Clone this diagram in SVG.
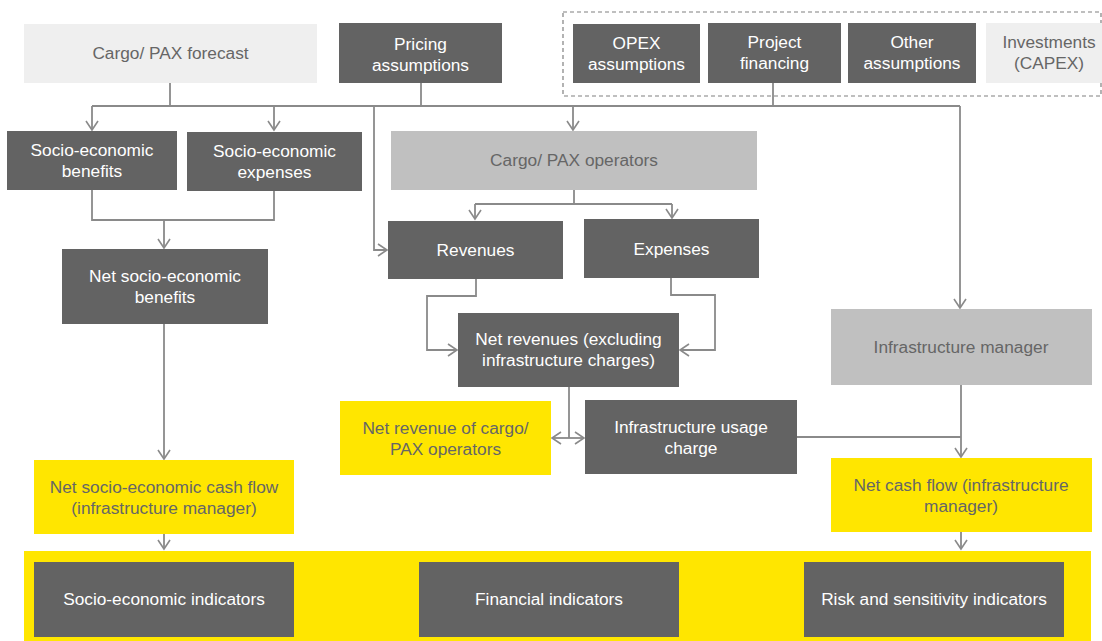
<svg xmlns="http://www.w3.org/2000/svg" width="1102" height="641" viewBox="0 0 1102 641">
<defs>
<marker id="arr" markerUnits="userSpaceOnUse" markerWidth="14" markerHeight="16" refX="10" refY="7" orient="auto">
<path d="M1,1 L10,7 L1,13" fill="none" stroke="#8a8a8a" stroke-width="1.6"/>
</marker>
<style>
.dk{fill:#636363}
.lt{fill:#efefef}
.md{fill:#c0c0c0}
.ye{fill:#ffe600}
text{font-family:"Liberation Sans",Arial,sans-serif;font-size:17.3px;text-anchor:middle}
.w{fill:#ffffff}
.g{fill:#666666}
.c{fill:none;stroke:#8a8a8a;stroke-width:1.8}
.a{marker-end:url(#arr)}
</style>
</defs>
<rect width="1102" height="641" fill="#ffffff"/>
<rect x="563" y="12" width="538" height="84" fill="none" stroke="#808080" stroke-width="1.2" stroke-dasharray="4,3"/>
<g id="connectors">
<path class="c" d="M170,83 V106 M421,83 V106 M773,83 V106 M92,106 H960"/>
<path class="c a" d="M92,106 V130"/>
<path class="c a" d="M274,106 V130"/>
<path class="c a" d="M573,106 V130"/>
<path class="c a" d="M374,106 V250 H387"/>
<path class="c a" d="M960,106 V308"/>
<path class="c" d="M92,190 V220 H274 V190"/>
<path class="c a" d="M164,220 V248"/>
<path class="c a" d="M164,324 V459"/>
<path class="c a" d="M164,534 V549"/>
<path class="c" d="M574,190 V204 M475,204 H672"/>
<path class="c a" d="M475,204 V219"/>
<path class="c a" d="M672,204 V218"/>
<path class="c a" d="M476,279 V296 H427 V350 H457"/>
<path class="c a" d="M671,278 V295 H715 V350 H680"/>
<path class="c" d="M569,387 V438"/>
<path class="c a" d="M569,438 H552"/>
<path class="c a" d="M569,438 H584"/>
<path class="c" d="M797,437 H961"/>
<path class="c a" d="M961,385 V457"/>
<path class="c a" d="M961,532 V549"/>
</g>
<g id="cargo-forecast"><rect class="lt" x="24" y="24" width="293" height="59"/><text class="g" x="170.5" y="59">Cargo/ PAX forecast</text></g>
<g id="pricing"><rect class="dk" x="339" y="23" width="163" height="60"/><text class="w" x="420.5" y="50">Pricing</text><text class="w" x="420.5" y="71">assumptions</text></g>
<g id="opex"><rect class="dk" x="573" y="24" width="127" height="59"/><text class="w" x="636.5" y="49">OPEX</text><text class="w" x="636.5" y="70">assumptions</text></g>
<g id="project-financing"><rect class="dk" x="708" y="23" width="133" height="60"/><text class="w" x="774.5" y="48">Project</text><text class="w" x="774.5" y="69">financing</text></g>
<g id="other"><rect class="dk" x="848" y="23" width="128" height="60"/><text class="w" x="912" y="48">Other</text><text class="w" x="912" y="69">assumptions</text></g>
<g id="investments"><rect class="lt" x="986" y="23" width="116" height="60"/><text class="g" x="1049" y="48">Investments</text><text class="g" x="1049" y="69">(CAPEX)</text></g>
<g id="socio-benefits"><rect class="dk" x="7" y="131" width="170" height="59"/><text class="w" x="92" y="156">Socio-economic</text><text class="w" x="92" y="177">benefits</text></g>
<g id="socio-expenses"><rect class="dk" x="187" y="132" width="175" height="59"/><text class="w" x="274.5" y="157">Socio-economic</text><text class="w" x="274.5" y="178">expenses</text></g>
<g id="cargo-operators"><rect class="md" x="391" y="131" width="366" height="59"/><text class="g" x="574" y="166">Cargo/ PAX operators</text></g>
<g id="revenues"><rect class="dk" x="388" y="221" width="175" height="58"/><text class="w" x="475.5" y="256">Revenues</text></g>
<g id="expenses"><rect class="dk" x="584" y="219" width="175" height="59"/><text class="w" x="671.5" y="255">Expenses</text></g>
<g id="net-socio-benefits"><rect class="dk" x="62" y="249" width="206" height="75"/><text class="w" x="165" y="282">Net socio-economic</text><text class="w" x="165" y="303">benefits</text></g>
<g id="net-revenues"><rect class="dk" x="458" y="313" width="221" height="74"/><text class="w" x="568.5" y="345">Net revenues (excluding</text><text class="w" x="568.5" y="366">infrastructure charges)</text></g>
<g id="infra-manager"><rect class="md" x="831" y="309" width="261" height="76"/><text class="g" x="961" y="353">Infrastructure manager</text></g>
<g id="net-revenue-operators"><rect class="ye" x="340" y="401" width="211" height="74"/><text class="g" x="445.5" y="434">Net revenue of cargo/</text><text class="g" x="445.5" y="455">PAX operators</text></g>
<g id="infra-usage"><rect class="dk" x="585" y="400" width="212" height="74"/><text class="w" x="691" y="433">Infrastructure usage</text><text class="w" x="691" y="454">charge</text></g>
<g id="net-socio-cashflow"><rect class="ye" x="34" y="460" width="260" height="74"/><text class="g" x="164" y="493">Net socio-economic cash flow</text><text class="g" x="164" y="514">(infrastructure manager)</text></g>
<g id="net-cashflow"><rect class="ye" x="831" y="458" width="261" height="74"/><text class="g" x="961" y="491">Net cash flow (infrastructure</text><text class="g" x="961" y="512">manager)</text></g>
<g id="indicators-band"><rect class="ye" x="24" y="551" width="1067" height="90"/></g>
<g id="socio-indicators"><rect class="dk" x="34" y="562" width="260" height="75"/><text class="w" x="164" y="605">Socio-economic indicators</text></g>
<g id="financial-indicators"><rect class="dk" x="419" y="562" width="260" height="75"/><text class="w" x="549" y="605">Financial indicators</text></g>
<g id="risk-indicators"><rect class="dk" x="804" y="562" width="260" height="75"/><text class="w" x="934" y="605">Risk and sensitivity indicators</text></g>
</svg>
